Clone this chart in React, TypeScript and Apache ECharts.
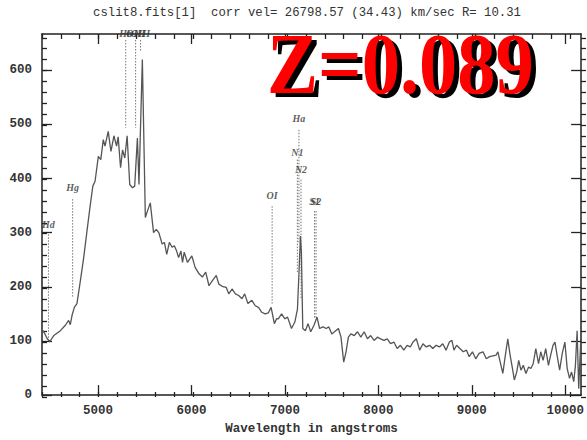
import React, { useEffect, useRef } from 'react';
import * as echarts from 'echarts';

// Spectrum (wavelength in angstroms, flux)
const wavelength = [
  4403, 4414, 4456, 4484, 4526, 4597, 4650, 4685, 4703, 4721, 4746, 4774, 4809, 4844, 4880, 4915, 4944, 4968,
  5003, 5029, 5056, 5074, 5109, 5138, 5170, 5198, 5215, 5241, 5262, 5286, 5311, 5339, 5368, 5392, 5421, 5438,
  5474, 5506, 5523, 5559, 5594, 5622, 5650, 5686, 5710, 5735, 5763, 5792, 5816, 5841, 5862, 5887, 5904, 5922,
  5957, 6004, 6039, 6081, 6116, 6152, 6187, 6222, 6265, 6293, 6328, 6371, 6399, 6434, 6470, 6505, 6540, 6569,
  6604, 6646, 6682, 6717, 6752, 6788, 6823, 6852, 6887, 6911, 6929, 6964, 7000, 7028, 7070, 7106, 7134, 7152,
  7166, 7176, 7191, 7219, 7247, 7276, 7311, 7343, 7371, 7406, 7441, 7470, 7502, 7530, 7573, 7600, 7629, 7654,
  7679, 7706, 7742, 7777, 7812, 7848, 7883, 7918, 7954, 7989, 8024, 8060, 8095, 8130, 8166, 8201, 8236, 8272,
  8307, 8342, 8371, 8406, 8442, 8477, 8512, 8548, 8583, 8618, 8654, 8689, 8724, 8760, 8787, 8809, 8837, 8872,
  8908, 8943, 8972, 9007, 9042, 9078, 9120, 9155, 9190, 9261, 9279, 9304, 9332, 9357, 9385, 9410, 9438, 9455,
  9481, 9502, 9526, 9551, 9579, 9608, 9632, 9657, 9685, 9714, 9738, 9763, 9791, 9820, 9844, 9869, 9890, 9915,
  9940, 9968, 9996, 10021, 10046, 10067, 10091, 10109, 10127, 10144, 10165,
];
const flux = [
  115, 119, 104, 99, 110, 119, 129, 138, 130, 147, 162, 169, 209, 251, 301, 349, 386, 395,
  441, 435, 472, 460, 487, 450, 479, 460, 477, 420, 453, 438, 479, 389, 383, 386, 475, 389,
  620, 328, 337, 355, 300, 306, 300, 279, 282, 260, 282, 273, 276, 266, 254, 266, 245, 264,
  245, 257, 236, 224, 218, 227, 202, 211, 221, 205, 201, 199, 187, 196, 187, 184, 178, 187,
  169, 175, 165, 162, 153, 150, 152, 162, 132, 141, 141, 150, 141, 144, 123, 135, 159, 233,
  294, 264, 123, 119, 132, 117, 129, 144, 123, 126, 123, 126, 113, 117, 123, 107, 61, 80,
  107, 113, 110, 117, 107, 117, 104, 110, 101, 107, 104, 101, 104, 95, 98, 86, 92, 83,
  92, 89, 98, 104, 83, 95, 89, 92, 86, 92, 89, 95, 83, 98, 101, 83, 92, 86,
  80, 83, 71, 80, 67, 77, 80, 67, 71, 74, 80, 61, 40, 71, 104, 74, 46, 28,
  43, 64, 46, 55, 40, 52, 49, 58, 86, 58, 80, 64, 86, 55, 74, 92, 98, 71,
  46, 77, 98, 49, 31, 43, 25, 55, 119, 12, 98,
];

// Line identifications
const lineNames = ['Hd', 'Hg', 'Hb', 'OIII', 'OIII', 'OI', 'N1', 'Ha', 'N2', 'S1', 'S2'];
const lineWavelengths = [4469, 4728, 5296, 5402, 5455, 6863, 7133, 7150, 7172, 7317, 7333];
const labelLevels = [316, 384, 668, 668, 668, 369, 449, 510, 417, 358, 358];
const markTops = [297, 362, 656, 656, 656, 349, 435, 490, 398, 340, 340];
const markBottoms = [99, 181, 494, 494, 634, 169, 227, 282, 178, 141, 141];

// Axes
const xMin = 4400;
const xMax = 10170;
const yMin = 0;
const yMax = 667;
const xMajorTicks = [5000, 6000, 7000, 8000, 9000, 10000];
const yMajorTicks = [0, 100, 200, 300, 400, 500, 600];
const xMinorTicks: number[] = [];
for (let v = 4400; v <= xMax; v += 200) xMinorTicks.push(v);
const yMinorTicks: number[] = [];
for (let v = 0; v <= 660; v += 20) yMinorTicks.push(v);

const titleText = 'cslit8.fits[1]  corr vel= 26798.57 (34.43) km/sec R= 10.31';
const xAxisName = 'Wavelength in angstroms';
const redshiftText = 'Z=0.089';

const MONO = '"Liberation Mono", "DejaVu Sans Mono", monospace';
const SERIF = '"Liberation Serif", "DejaVu Serif", serif';
const INK = '#222';

function xAxisDef(gridIndex: number, position: string, ticks: number[], len: number, withLine: boolean, withLabel: boolean, name?: string) {
  return {
    type: 'value',
    gridIndex,
    position,
    min: xMin,
    max: xMax,
    name: name || '',
    nameLocation: 'middle',
    nameGap: 25,
    nameTextStyle: { fontFamily: MONO, fontWeight: 'bold', fontSize: 12.5, color: '#333' },
    axisLine: { show: withLine, onZero: false, lineStyle: { color: INK, width: 1.5 } },
    axisTick: { show: true, inside: true, length: len, customValues: ticks, lineStyle: { color: INK, width: 1.3 } },
    axisLabel: withLabel
      ? {
          show: true,
          customValues: xMajorTicks,
          formatter: (v: number) => String(v),
          margin: 9,
          fontFamily: MONO,
          fontWeight: 'bold',
          fontSize: 12.5,
          color: '#333',
        }
      : { show: false },
    splitLine: { show: false },
  };
}

function yAxisDef(gridIndex: number, position: string, ticks: number[], len: number, withLine: boolean, withLabel: boolean) {
  return {
    type: 'value',
    gridIndex,
    position,
    min: yMin,
    max: yMax,
    axisLine: { show: withLine, onZero: false, lineStyle: { color: INK, width: 1.5 } },
    axisTick: { show: true, inside: true, length: len, customValues: ticks, lineStyle: { color: INK, width: 1.3 } },
    axisLabel: withLabel
      ? {
          show: true,
          customValues: yMajorTicks,
          formatter: (v: number) => String(v),
          margin: 10,
          fontFamily: MONO,
          fontWeight: 'bold',
          fontSize: 12.5,
          color: '#333',
        }
      : { show: false },
    splitLine: { show: false },
  };
}

export default function App() {
  const ref = useRef<HTMLDivElement>(null);

  useEffect(() => {
    if (!ref.current) return;
    const chart = echarts.init(ref.current, undefined, { renderer: 'svg' });
    const gridRect = { left: 42, right: 1, top: 34, bottom: 43 };

    const markSeries = lineNames.map((n, i) => ({
      type: 'line',
      name: n,
      xAxisIndex: 0,
      yAxisIndex: 0,
      symbol: 'none',
      silent: true,
      clip: false,
      z: 2,
      lineStyle: { color: '#777', width: 1, type: [1.5, 1.5] },
      data: [
        [lineWavelengths[i], markTops[i]],
        [lineWavelengths[i], markBottoms[i]],
      ],
    }));

    chart.setOption({
      animation: false,
      backgroundColor: '#fff',
      title: {
        text: titleText,
        left: 88,
        top: 2,
        textStyle: { fontFamily: MONO, fontSize: 12.3, fontWeight: 'normal', color: '#333' },
      },
      grid: [gridRect, gridRect],
      xAxis: [
        xAxisDef(0, 'bottom', xMajorTicks, 10, true, true, xAxisName),
        xAxisDef(0, 'top', xMajorTicks, 10, true, false),
        xAxisDef(1, 'bottom', xMinorTicks, 5, false, false),
        xAxisDef(1, 'top', xMinorTicks, 5, false, false),
      ],
      yAxis: [
        yAxisDef(0, 'left', yMajorTicks, 10, true, true),
        yAxisDef(0, 'right', yMajorTicks, 10, true, false),
        yAxisDef(1, 'left', yMinorTicks, 5, false, false),
        yAxisDef(1, 'right', yMinorTicks, 5, false, false),
      ],
      series: [
        {
          type: 'line',
          name: 'spectrum',
          xAxisIndex: 0,
          yAxisIndex: 0,
          symbol: 'none',
          z: 3,
          lineStyle: { color: '#555', width: 1.3 },
          data: wavelength.map((w, i) => [w, flux[i]]),
        },
        ...markSeries,
        {
          type: 'scatter',
          name: 'labels',
          xAxisIndex: 0,
          yAxisIndex: 0,
          symbolSize: 0,
          silent: true,
          clip: false,
          z: 4,
          label: {
            show: true,
            position: 'inside',
            formatter: '{b}',
            fontFamily: SERIF,
            fontStyle: 'italic',
            fontWeight: 'bold',
            fontSize: 10,
            color: '#333',
          },
          data: lineNames.map((n, i) => ({ name: n, value: [lineWavelengths[i], labelLevels[i]] })),
        },
        { type: 'line', xAxisIndex: 2, yAxisIndex: 2, data: [], symbol: 'none' },
      ],
      graphic: [
        {
          type: 'text',
          left: 272,
          top: 25,
          z: 10,
          scaleX: 0.89,
          style: { text: redshiftText, font: `bold 86px ${SERIF}`, fill: '#000' },
        },
        {
          type: 'text',
          left: 267,
          top: 21,
          z: 11,
          scaleX: 0.89,
          style: { text: redshiftText, font: `bold 86px ${SERIF}`, fill: '#ff0000' },
        },
      ],
    });
    return () => chart.dispose();
  }, []);

  return <div ref={ref} style={{ position: 'fixed', left: 0, top: 0, width: 587, height: 440 }} />;
}
